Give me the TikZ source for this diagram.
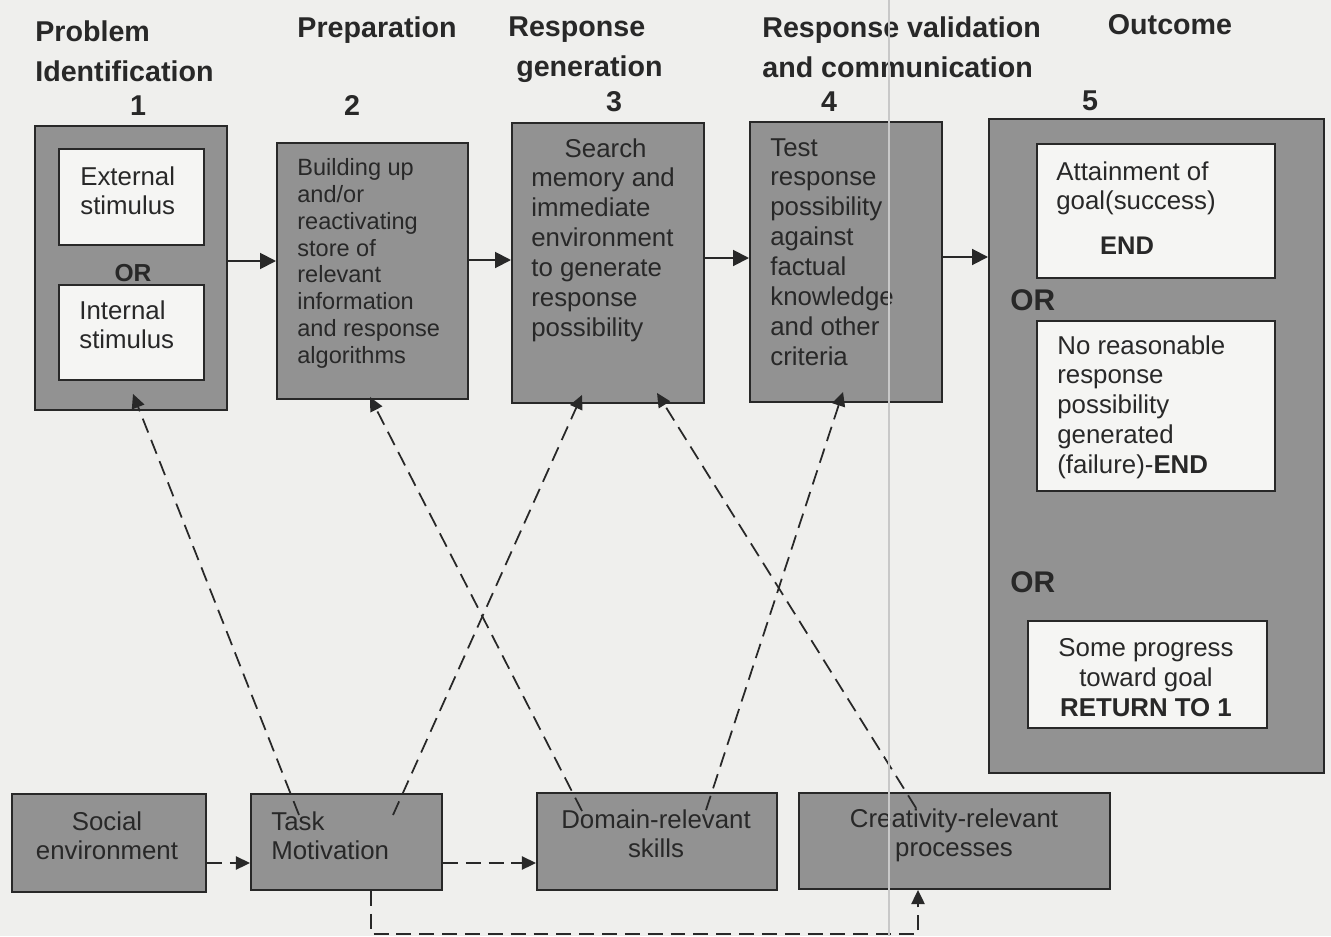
\documentclass[tikz,border=0pt]{standalone}
\usepackage{fontspec}
\setmainfont{Liberation Sans}
\usetikzlibrary{arrows.meta,calc}

\definecolor{paper}{RGB}{239,239,237}
\definecolor{boxfill}{RGB}{146,146,146}
\definecolor{innerfill}{RGB}{245,245,243}
\definecolor{ink}{RGB}{40,40,40}
\definecolor{streak}{RGB}{200,200,200}

\tikzset{
  panel/.style 2 args={draw=ink, line width=1.1pt, anchor=north west, inner sep=0pt,
    minimum width=#1*0.02cm, minimum height=#2*0.02cm},
  stage/.style 2 args={panel={#1}{#2}, fill=boxfill},
  choice/.style 2 args={panel={#1}{#2}, fill=innerfill},
  body/.style={font=\fontsize{14.7}{17}\selectfont, text=ink, inner sep=0pt,
    anchor=north west, align=left},
  smallbody/.style={body, font=\fontsize{13.4}{15.3}\selectfont},
  head/.style={font=\fontsize{16.3}{23.2}\selectfont\bfseries, text=ink, inner sep=0pt},
  orlabel/.style={font=\fontsize{#1}{#1}\selectfont\bfseries, text=ink, inner sep=0pt, anchor=base},
  flow/.style={draw=ink, line width=1.1pt, -{Triangle[length=9pt,width=9pt]}},
  link/.style={draw=ink, line width=1pt, dash pattern=on 8.5pt off 4.5pt,
    -{Triangle[length=8pt,width=7.5pt]}},
}

\begin{document}
\begin{tikzpicture}[x=0.02cm, y=-0.02cm]
  % page
  \fill[paper] (0,0) rectangle (1331,936);
  \useasboundingbox (0,0) rectangle (1331,936);

  % column headings
  \node[head, anchor=north west, align=left] (h1) at (35,20) {Problem\\Identification};
  \node[head, anchor=base] (h2) at (377,38) {Preparation};
  \node[head, anchor=north west, align=left] (h3) at (508,16) {Response\\\hspace*{4.5pt}generation};
  \node[head, anchor=north west, align=left] (h4) at (762,16) {Response validation\\and communication};
  \node[head, anchor=base] (h5) at (1170,35) {Outcome};

  \node[head, anchor=base] (n1) at (138,115) {1};
  \node[head, anchor=base] (n2) at (352,115) {2};
  \node[head, anchor=base] (n3) at (614,112) {3};
  \node[head, anchor=base] (n4) at (829,112) {4};
  \node[head, anchor=base] (n5) at (1090,111) {5};

  % stage 1: problem identification
  \node[stage={192}{284}] (b1) at (34,125) {};
  \node[choice={145}{96}] (ext) at (58,148) {};
  \node[choice={145}{95}] (int) at (58,284) {};
  \node[body] (extT) at (80,166) {External\\stimulus};
  \node[body] (intT) at (79,300) {Internal\\stimulus};
  \node[orlabel=14] (or1) at (133,281) {OR};

  % stage 2: preparation
  \node[stage={191}{256}] (b2) at (276,142) {};
  \node[smallbody] (b2T) at (297,158) {Building up\\and/or\\reactivating\\store of\\relevant\\information\\and response\\algorithms};

  % stage 3: response generation
  \node[stage={192}{280}] (b3) at (511,122) {};
  \node[body] (b3T) at (531,138) {\hspace*{19pt}Search\\memory and\\immediate\\environment\\to generate\\response\\possibility};

  % stage 4: response validation
  \node[stage={192}{280}] (b4) at (749,121) {};
  \node[body] (b4T) at (770,138) {Test\\response\\possibility\\against\\factual\\knowledge\\and other\\criteria};

  % stage 5: outcome
  \node[stage={335}{654}] (b5) at (988,118) {};
  \node[choice={238}{134}] (succ) at (1036,143) {};
  \node[body] (succT) at (1056,161) {Attainment of\\goal(success)};
  \node[orlabel=14.5] (end1) at (1127,254) {END};
  \node[orlabel=17, anchor=base west] (or2) at (1010,310) {OR};
  \node[choice={238}{170}] (fail) at (1036,320) {};
  \node[body] (failT) at (1057,335) {No reasonable\\response\\possibility\\generated\\(failure)-\textbf{END}};
  \node[orlabel=17, anchor=base west] (or3) at (1010,592) {OR};
  \node[choice={239}{107}] (prog) at (1027,620) {};
  \node[body, anchor=north, align=center] (progT) at (1146,638) {Some progress\\toward goal\\\textbf{RETURN TO 1}};

  % components
  \node[stage={194}{98}] (social) at (11,793) {};
  \node[stage={191}{96}] (task) at (250,793) {};
  \node[stage={240}{97}] (domain) at (536,792) {};
  \node[stage={311}{96}] (creat) at (798,792) {};
  \node[body, anchor=north, align=center] (socialT) at (107,811) {Social\\environment};
  \node[body] (taskT) at (271,811) {Task\\Motivation};
  \node[body, anchor=north, align=center] (domainT) at (656,809) {Domain-relevant\\skills};
  \node[body, anchor=north, align=center] (creatT) at (954,808) {Creativity-relevant\\processes};

  % main sequence of stages
  \coordinate (r1) at (0,261);
  \coordinate (r2) at (0,260);
  \coordinate (r3) at (0,258);
  \coordinate (r4) at (0,257);
  \draw[flow] (b1.east |- r1) -- (b2.west |- r1);
  \draw[flow] (b2.east |- r2) -- (b3.west |- r2);
  \draw[flow] (b3.east |- r3) -- (b4.west |- r3);
  \draw[flow] (b4.east |- r4) -- (b5.west |- r4);

  % influences of the components on the stages
  \draw[link] ($(task.north west)+(49,22)$) -- ($(b1.south west)+(99,-17)$);
  \draw[link] ($(task.north west)+(143,22)$) -- ($(b3.south west)+(71,-9)$);
  \draw[link] ($(domain.north west)+(46,19)$) -- ($(b2.south west)+(94,-3)$);
  \draw[link] ($(domain.north west)+(170,18)$) -- ($(b4.south west)+(94,-11)$);
  \draw[link] ($(creat.north west)+(118,16)$) -- ($(b3.south west)+(146,-11)$);

  % links among the components
  \coordinate (r5) at (0,863);
  \draw[link] (social.east |- r5) -- (task.west |- r5);
  \draw[link] (task.east |- r5) -- (domain.west |- r5);
  \coordinate (drop) at (371,934);
  \coordinate (turn) at (918,934);
  \draw[link] (task.south -| drop) -- (drop) -- (turn) -- (creat.south -| turn);

  % thin vertical streak across the sheet
  \draw[streak, line width=1.2pt] (889,0) -- (889,936);
\end{tikzpicture}
\end{document}
